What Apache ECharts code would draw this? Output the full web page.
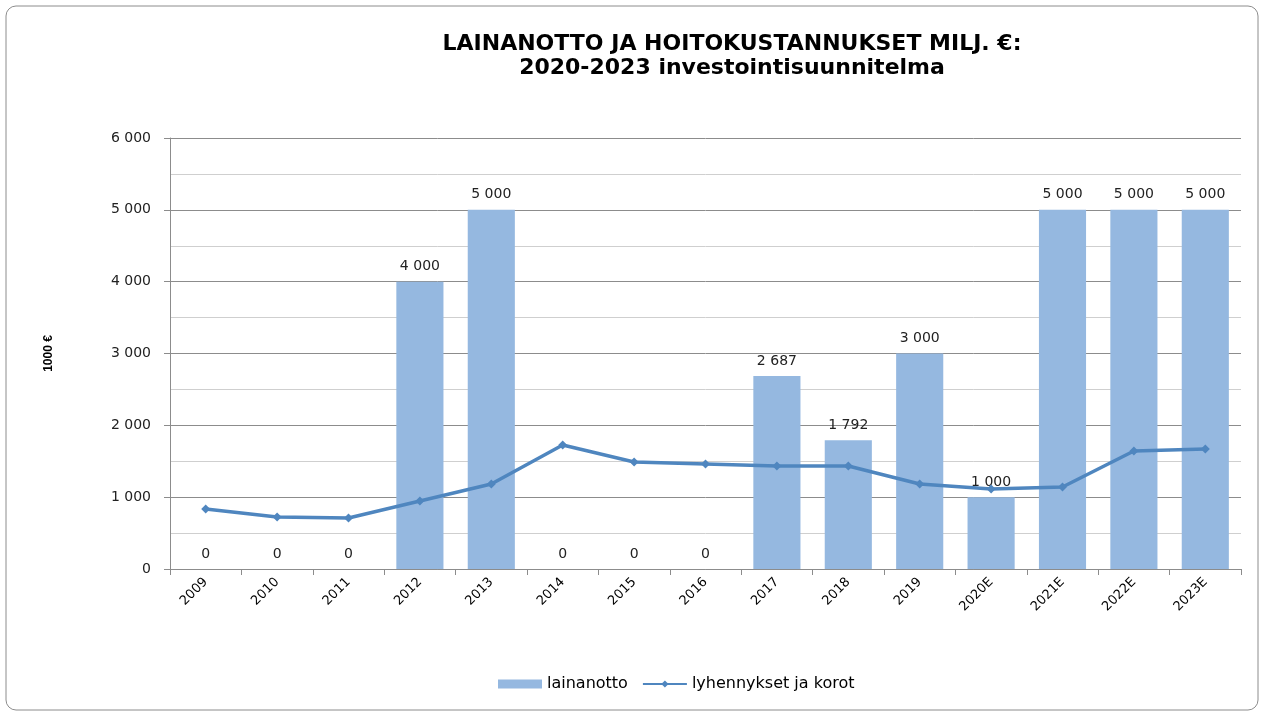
<!DOCTYPE html>
<html>
<head>
<meta charset="utf-8">
<script src="https://cdn.jsdelivr.net/npm/echarts@6/dist/echarts.min.js"></script>
<style>
html, body { margin: 0; padding: 0; background: #fff; }
#main { width: 1263px; height: 713px; }
</style>
</head>
<body>
<div id="main"></div>
<script>
var vuodet = ['2009', '2010', '2011', '2012', '2013', '2014', '2015', '2016', '2017', '2018', '2019', '2020E', '2021E', '2022E', '2023E'];
var lainanotto = [0, 0, 0, 4000, 5000, 0, 0, 0, 2687, 1792, 3000, 1000, 5000, 5000, 5000];
var lyhennykset = [835, 724, 710, 947, 1183, 1726, 1490, 1462, 1434, 1434, 1183, 1114, 1142, 1643, 1671];

// tuhaterotin välilyönnillä
function muotoile(n) {
    return String(n).replace(/\B(?=(\d{3})+(?!\d))/g, ' ');
}

var myChart = echarts.init(document.getElementById('main'));
var option = {
    animation: false,
    textStyle: { fontFamily: 'DejaVu Sans, Verdana, sans-serif' },
    graphic: [{
        type: 'rect',
        shape: { x: 6, y: 6, width: 1252, height: 704, r: 10 },
        style: { fill: 'none', stroke: '#8c8c8c', lineWidth: 1 },
        silent: true
    }],
    title: {
        text: 'LAINANOTTO JA HOITOKUSTANNUKSET MILJ. €:\n2020-2023 investointisuunnitelma',
        left: 727,
        textAlign: 'center',
        top: 27,
        textStyle: { fontSize: 22, fontWeight: 'bold', color: '#000', lineHeight: 24, fontFamily: 'DejaVu Sans' }
    },
    legend: {
        top: 671,
        left: 493,
        itemWidth: 44,
        itemHeight: 9,
        itemGap: 14,
        textStyle: { fontSize: 16, color: '#000' },
        data: [{ name: 'lainanotto', icon: 'rect' }, { name: 'lyhennykset ja korot' }]
    },
    grid: { left: 170, right: 22, top: 138, bottom: 144 },
    xAxis: {
        type: 'category',
        data: vuodet,
        axisLine: { lineStyle: { color: '#8c8c8c', width: 1 } },
        axisTick: { show: true, length: 6, lineStyle: { color: '#8c8c8c' } },
        axisLabel: { rotate: 45, fontSize: 13, color: '#000', margin: 11 }
    },
    yAxis: {
        type: 'value',
        min: 0,
        max: 6000,
        interval: 1000,
        name: '1000 €',
        nameLocation: 'middle',
        nameGap: 115,
        nameTextStyle: { fontSize: 12, fontWeight: 'bold', color: '#000', fontFamily: 'Liberation Sans Narrow, Liberation Sans, sans-serif' },
        axisLine: { show: true, lineStyle: { color: '#8c8c8c' } },
        axisTick: { show: true, length: 6, lineStyle: { color: '#8c8c8c' } },
        axisLabel: { fontSize: 14, color: '#222', margin: 19, formatter: function (v) { return muotoile(v); } },
        splitLine: { lineStyle: { color: '#8c8c8c', width: 1 } },
        minorTick: { show: false, splitNumber: 2 },
        minorSplitLine: { show: true, lineStyle: { color: '#cfcfcf', width: 1 } }
    },
    series: [{
        name: 'lainanotto',
        type: 'bar',
        data: lainanotto,
        barWidth: '66%',
        itemStyle: { color: '#95b8e0' },
        label: {
            show: true,
            position: 'top',
            distance: 8,
            fontSize: 14,
            color: '#222',
            formatter: function (p) { return muotoile(p.value); }
        }
    }, {
        name: 'lyhennykset ja korot',
        type: 'line',
        data: lyhennykset,
        symbol: 'diamond',
        symbolSize: 9,
        lineStyle: { color: '#4f86bf', width: 3.5 },
        itemStyle: { color: '#4f86bf' }
    }]
};
myChart.setOption(option);
</script>
</body>
</html>
